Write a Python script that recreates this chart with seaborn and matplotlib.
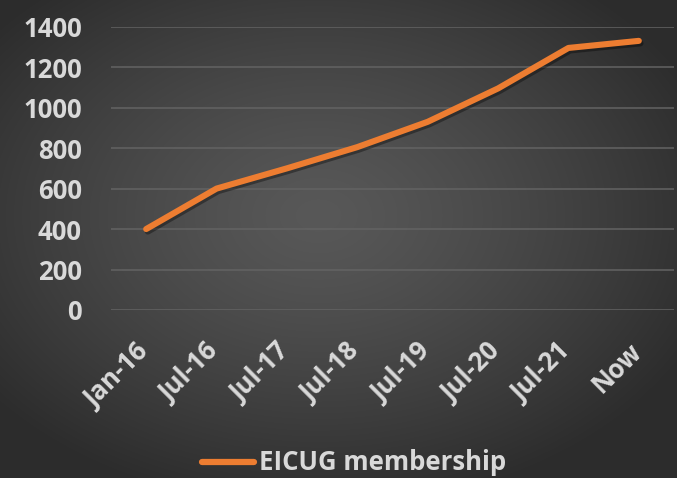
import numpy as np
import pandas as pd
import matplotlib
matplotlib.use("Agg")
import matplotlib.pyplot as plt
import matplotlib.patheffects as pe
import matplotlib.transforms as mtransforms
import seaborn as sns

# Membership counts over time
periods = ["Jan-16", "Jul-16", "Jul-17", "Jul-18", "Jul-19", "Jul-20", "Jul-21", "Now"]
members = [400, 600, 700, 805, 930, 1095, 1295, 1330]
y_ticks = [0, 200, 400, 600, 800, 1000, 1200, 1400]
series_name = "EICUG membership"

df = pd.DataFrame({"period": periods, series_name: members})

sns.set_theme(style="white")
plt.rcParams["font.family"] = ["Open Sans", "DejaVu Sans"]
plt.rcParams["font.weight"] = "bold"

W, H = 677, 478
fig = plt.figure(figsize=(W / 100, H / 100), dpi=100)

# Radial dark-grey background
bg = fig.add_axes([0, 0, 1, 1], zorder=0)
yy, xx = np.mgrid[0:H, 0:W]
cx, cy = W * 0.47, H * 0.45
r = np.sqrt(((xx - cx) / (W * 0.62)) ** 2 + ((yy - cy) / (H * 0.62)) ** 2)
r = np.clip(r, 0, 1)
inner = np.array([0x58, 0x58, 0x58]) / 255
outer = np.array([0x2c, 0x2c, 0x2c]) / 255
img = inner[None, None, :] + (outer - inner)[None, None, :] * (r ** 1.3)[..., None]
bg.imshow(img, extent=[0, 1, 0, 1], aspect="auto", interpolation="bilinear")
bg.set_axis_off()

ax = fig.add_axes([111 / W, 1 - 310 / H, (674 - 111) / W, (310 - 26.7) / H], zorder=1)
ax.patch.set_alpha(0)

text_col = "#d9d9d9"
orange = "#ED7D31"

sns.lineplot(data=df, x="period", y=series_name, ax=ax, color=orange,
             linewidth=4.4, sort=False, label=series_name,
             solid_capstyle="round", solid_joinstyle="round",
             path_effects=[pe.SimpleLineShadow(offset=(1.2, -1.8), shadow_color="black",
                                               alpha=0.35, rho=1.0),
                           pe.Normal()])

ax.set_xlim(-0.5, len(periods) - 0.5)
ax.set_ylim(0, 1400)
ax.set_yticks(y_ticks)
ax.set_yticklabels([str(v) for v in y_ticks])
ax.yaxis.grid(True, color="#636363", linewidth=1.1)
ax.set_axisbelow(True)
for s in ax.spines.values():
    s.set_visible(False)
ax.set_xlabel("")
ax.set_ylabel("")

fs = 18.5
ax.tick_params(axis="y", length=0, pad=21, labelsize=fs, labelcolor=text_col)
ax.tick_params(axis="x", length=0, pad=20, labelsize=fs, labelcolor=text_col)
shift = mtransforms.ScaledTranslation(8 / 100, 0, fig.dpi_scale_trans)
for lab in ax.get_xticklabels():
    lab.set_rotation(45)
    lab.set_ha("right")
    lab.set_va("top")
    lab.set_fontweight("bold")
    lab.set_transform(lab.get_transform() + shift)
for lab in ax.get_yticklabels():
    lab.set_fontweight("bold")

leg = ax.legend(loc="center", bbox_to_anchor=(354 / W, 15 / H),
                bbox_transform=fig.transFigure, frameon=False,
                handlelength=2.0, handletextpad=0.2,
                prop={"size": fs, "weight": "bold"})
for t in leg.get_texts():
    t.set_color(text_col)
for h in leg.get_lines():
    h.set_linewidth(4.5)
    h.set_path_effects([])

fig.savefig("out.png", dpi=100)
